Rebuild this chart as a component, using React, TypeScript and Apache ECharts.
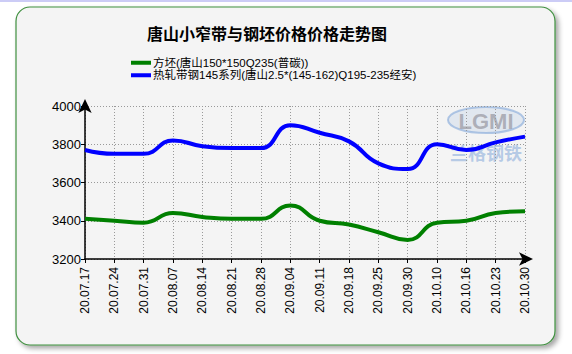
import React, { useEffect, useRef } from "react";
import * as echarts from "echarts";

const categories = [
  "20.07.17", "20.07.24", "20.07.31", "20.08.07", "20.08.14", "20.08.21",
  "20.08.28", "20.09.04", "20.09.11", "20.09.18", "20.09.25", "20.09.30",
  "20.10.10", "20.10.16", "20.10.23", "20.10.30",
];
const billetValues = [3410, 3400, 3390, 3440, 3420, 3410, 3410, 3480, 3400, 3380, 3340, 3300, 3390, 3400, 3440, 3450];
const stripValues = [3770, 3750, 3750, 3820, 3790, 3780, 3780, 3900, 3860, 3815, 3700, 3670, 3800, 3770, 3810, 3840];
const seriesNames = [
  "方坯(唐山150*150Q235(普碳))",
  "热轧带钢145系列(唐山2.5*(145-162)Q195-235经安)",
];
const yTicks = { min: 3200, max: 4000, interval: 200 };
const title = "唐山小窄带与钢坯价格价格走势图";

export default function App() {
  const ref = useRef<HTMLDivElement>(null);
  useEffect(() => {
    if (!ref.current) return;
    const chart = echarts.init(ref.current, null, { renderer: "svg" });
    const font = "'Liberation Sans', Arial, 'Noto Sans CJK SC', sans-serif";
    chart.setOption({
      animation: false,
      backgroundColor: "#ffffff",
      title: {
        text: title,
        left: 262,
        textAlign: "center",
        top: 20,
        textStyle: { fontSize: 16, fontWeight: "bold", color: "#000", fontFamily: "'Noto Sans CJK SC', sans-serif" },
      },
      graphic: [
        { type: "rect", shape: { x: 0, y: 0, width: 572, height: 2 }, style: { fill: "#ccccf6" }, z: -10 },
        {
          type: "rect",
          shape: { x: 16, y: 7, width: 539, height: 338, r: 14 },
          style: {
            fill: "#f4f4f4",
            stroke: "#3f8f3f",
            lineWidth: 1.2,
            shadowBlur: 5,
            shadowOffsetX: 3,
            shadowOffsetY: 3,
            shadowColor: "rgba(0,0,0,0.35)",
          },
          z: -9,
        },
        {
          type: "ellipse",
          shape: { cx: 486, cy: 120, rx: 38, ry: 13 },
          style: { fill: "rgba(150,180,220,0.2)", stroke: "rgba(120,160,215,0.55)", lineWidth: 2 },
          z: -5,
        },
        {
          type: "text",
          x: 486,
          y: 121,
          style: {
            text: "LGMI",
            fill: "rgba(150,150,160,0.7)",
            font: "bold 22px 'Liberation Sans', sans-serif",
            align: "center",
            verticalAlign: "middle",
          },
          z: -4,
        },
        {
          type: "text",
          x: 486,
          y: 152,
          style: {
            text: "兰格钢铁",
            fill: "rgba(120,160,215,0.5)",
            font: "bold 18px 'Noto Sans CJK SC', sans-serif",
            align: "center",
            verticalAlign: "middle",
          },
          z: -4,
        },
      ],
      legend: {
        orient: "vertical",
        left: 126,
        top: 52,
        itemWidth: 20,
        itemHeight: 4,
        itemGap: 1,
        icon: "rect",
        textStyle: { fontSize: 11.5, color: "#000", fontFamily: font, padding: [0, 0, 0, -3] },
        data: seriesNames,
      },
      grid: { left: 85, right: 47, top: 106, bottom: 95 },
      xAxis: {
        type: "category",
        data: categories,
        boundaryGap: false,
        axisLine: {
          lineStyle: { color: "#000", width: 1.5 },
          symbol: ["none", "arrow"],
          symbolSize: [10, 14],
          symbolOffset: [0, 8],
        },
        axisTick: { show: true, length: 4, lineStyle: { color: "#000" } },
        axisLabel: { rotate: 90, margin: 8, fontSize: 12, color: "#000", fontFamily: font, interval: 0 },
        splitLine: { show: true, lineStyle: { color: "#999", type: [1, 2], width: 1 } },
      },
      yAxis: {
        type: "value",
        min: yTicks.min,
        max: yTicks.max,
        interval: yTicks.interval,
        axisLine: {
          show: true,
          lineStyle: { color: "#000", width: 1.5 },
          symbol: ["none", "arrow"],
          symbolSize: [10, 14],
          symbolOffset: [0, 7],
        },
        axisTick: { show: true, length: 4, lineStyle: { color: "#000" } },
        axisLabel: {
          margin: 4,
          fontSize: 13,
          color: "#000",
          fontFamily: font,
          formatter: (v: number) => String(v),
        },
        splitLine: { show: true, lineStyle: { color: "#999", type: [1, 2], width: 1 } },
      },
      series: [
        {
          name: seriesNames[0],
          type: "line",
          data: billetValues,
          smooth: 0.5,
          showSymbol: false,
          lineStyle: { color: "#008000", width: 4 },
          itemStyle: { color: "#008000" },
        },
        {
          name: seriesNames[1],
          type: "line",
          data: stripValues,
          smooth: 0.5,
          showSymbol: false,
          lineStyle: { color: "#0000ff", width: 4 },
          itemStyle: { color: "#0000ff" },
        },
      ],
    });
    return () => chart.dispose();
  }, []);
  return (
    <div
      ref={ref}
      style={{ position: "fixed", left: 0, top: 0, width: 572, height: 354 }}
    />
  );
}
